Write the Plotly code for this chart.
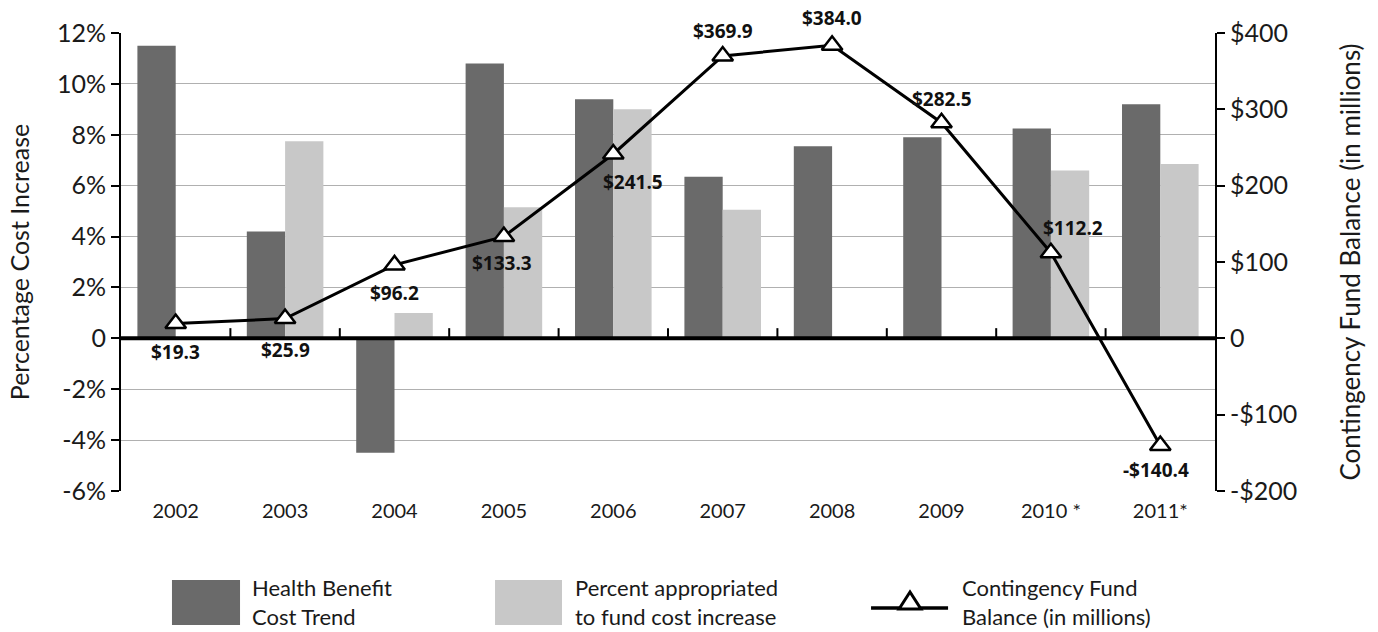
import plotly.graph_objects as go

years = ["2002", "2003", "2004", "2005", "2006", "2007", "2008", "2009", "2010 *", "2011*"]
cost_trend = [11.5, 4.2, -4.5, 10.8, 9.4, 6.35, 7.55, 7.9, 8.25, 9.2]
pct_appropriated = [None, 7.75, 1.0, 5.15, 9.0, 5.05, None, None, 6.6, 6.85]
fund_balance = [19.3, 25.9, 96.2, 133.3, 241.5, 369.9, 384.0, 282.5, 112.2, -140.4]
fund_labels = ["$19.3", "$25.9", "$96.2", "$133.3", "$241.5", "$369.9", "$384.0", "$282.5", "$112.2", "-$140.4"]

left_ticks = [12, 10, 8, 6, 4, 2, 0, -2, -4, -6]
left_text = ["12%", "10%", "8%", "6%", "4%", "2%", "0", "-2%", "-4%", "-6%"]
right_ticks = [400, 300, 200, 100, 0, -100, -200]
right_text = ["$400", "$300", "$200", "$100", "0", "-$100", "-$200"]

# label offsets (px) relative to each marker
label_dx = [0, 0, 0, -2, 20, 0, 0, 0, 22, -4]
label_dy = [28, 31, 28, 26, 28, -25, -27, -24, -25, 24]

FONT = "Lato"
DARK = "#6a6a6a"
LIGHT = "#c8c8c8"

xpos = list(range(len(years)))

fig = go.Figure()
fig.add_trace(go.Bar(x=xpos, y=cost_trend, marker=dict(color=DARK, line=dict(width=0)),
                     name="Health Benefit Cost Trend", yaxis="y"))
fig.add_trace(go.Bar(x=xpos, y=pct_appropriated, marker=dict(color=LIGHT, line=dict(width=0)),
                     name="Percent appropriated to fund cost increase", yaxis="y"))
fig.add_trace(go.Scatter(x=xpos, y=fund_balance, mode="lines+markers", yaxis="y2",
                         line=dict(color="black", width=3),
                         marker=dict(symbol="triangle-up", size=18, color="white",
                                     line=dict(color="black", width=2.5)),
                         name="Contingency Fund Balance (in millions)"))

for i, (v, t) in enumerate(zip(fund_balance, fund_labels)):
    fig.add_annotation(x=xpos[i], y=v, xref="x", yref="y2", text="<b>" + t + "</b>", showarrow=False,
                       xshift=label_dx[i], yshift=-label_dy[i],
                       font=dict(family="Open Sans", size=19, color="#111"))

shapes = []
# zero line drawn above the bars
shapes.append(dict(type="line", xref="paper", yref="y", x0=0, x1=1, y0=0, y1=0,
                   line=dict(color="black", width=4), layer="above"))
# small category tick marks on the zero line
for i in range(1, len(years)):
    shapes.append(dict(type="line", xref="x", yref="y", x0=i - 0.5, x1=i - 0.5, y0=0, y1=0.4,
                       line=dict(color="black", width=2)))

# manual legend
shapes.append(dict(type="rect", xref="paper", yref="paper", x0=0.0466, x1=0.1088, y0=-0.2926, y1=-0.1943,
                   fillcolor=DARK, line=dict(width=0)))
shapes.append(dict(type="rect", xref="paper", yref="paper", x0=0.3419, x1=0.4031, y0=-0.2926, y1=-0.1943,
                   fillcolor=LIGHT, line=dict(width=0)))
shapes.append(dict(type="line", xref="paper", yref="paper", x0=0.6856, x1=0.756, y0=-0.2555, y1=-0.2555,
                   line=dict(color="black", width=3.5)))
shapes.append(dict(type="path", xref="paper", yref="paper",
                   path="M 0.7212 -0.2205 L 0.7112 -0.2575 L 0.7312 -0.2575 Z",
                   fillcolor="white", line=dict(color="black", width=3)))
fig.update_layout(shapes=shapes)

legend_texts = [(0.1179, "Health Benefit<br>Cost Trend"),
                (0.4132, "Percent appropriated<br>to fund cost increase"),
                (0.767, "Contingency Fund<br>Balance (in millions)")]
for x, t in legend_texts:
    fig.add_annotation(xref="paper", yref="paper", x=x, y=-0.243, text=t, showarrow=False,
                       xanchor="left", yanchor="middle", align="left",
                       font=dict(family=FONT, size=22, color="#1a1a1a"))

fig.update_layout(
    width=1378, height=632,
    margin=dict(l=121, r=163, t=33, b=141),
    paper_bgcolor="white", plot_bgcolor="white",
    barmode="group", bargap=0.3, bargroupgap=0,
    showlegend=False,
    font=dict(family=FONT, color="#1a1a1a"),
    xaxis=dict(range=[-0.5, len(years) - 0.5], tickvals=xpos, ticktext=years,
               showline=False, ticks="", showgrid=False, zeroline=False,
               tickfont=dict(size=20), ticklabelstandoff=6),
    yaxis=dict(range=[-6, 12], tickvals=left_ticks, ticktext=left_text,
               showgrid=True, gridcolor="#b0b0b0", gridwidth=1,
               zeroline=False,
               showline=True, linecolor="black", linewidth=2,
               ticks="outside", ticklen=8, tickwidth=2, tickcolor="black",
               tickfont=dict(size=25),
               title=dict(text="Percentage Cost Increase", font=dict(size=25), standoff=20)),
    yaxis2=dict(range=[-200, 400], overlaying="y", side="right",
                tickvals=right_ticks, ticktext=right_text, showgrid=False, zeroline=False,
                showline=True, linecolor="black", linewidth=2,
                ticks="outside", ticklen=8, tickwidth=2, tickcolor="black",
                tickfont=dict(size=25),
                title=dict(text="Contingency Fund Balance (in millions)", font=dict(size=26), standoff=46)),
)

fig.write_html("out.html")
